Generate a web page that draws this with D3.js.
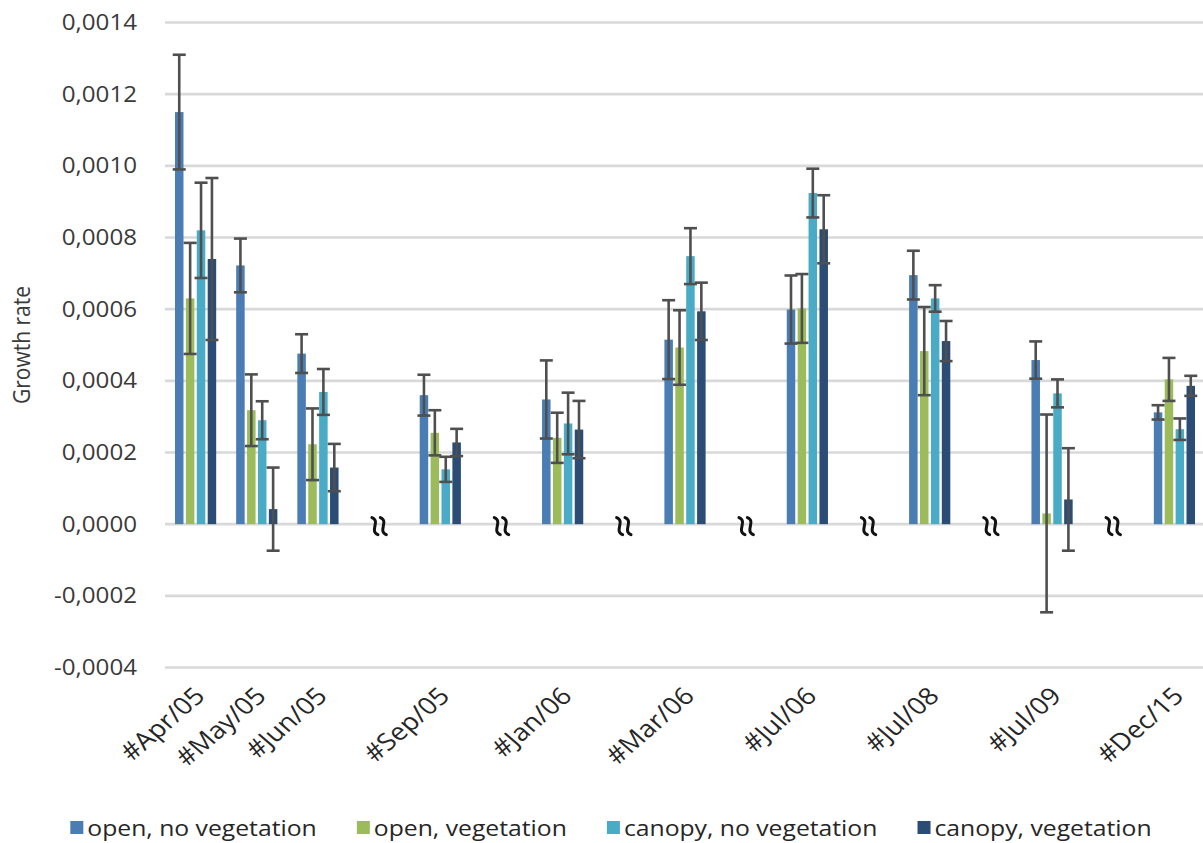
<!DOCTYPE html>
<html>
<head>
<meta charset="utf-8">
<script src="https://cdn.jsdelivr.net/npm/d3@7"></script>
<style>
  html, body { margin: 0; padding: 0; background: #fff; }
  svg { display: block; }
  text { font-family: "Open Sans", "DejaVu Sans", sans-serif; }
</style>
</head>
<body>
<svg id="chart" width="1203" height="843"></svg>
<script>
// Sampling dates (in order) and x slots; "break" slots mark time breaks
const dates = ["#Apr/05", "#May/05", "#Jun/05", "#Sep/05", "#Jan/06", "#Mar/06", "#Jul/06", "#Jul/08", "#Jul/09", "#Dec/15"];
const slots = ["#Apr/05", "#May/05", "#Jun/05", "break1", "#Sep/05", "break2", "#Jan/06", "break3", "#Mar/06", "break4", "#Jul/06", "break5", "#Jul/08", "break6", "#Jul/09", "break7", "#Dec/15"];
const breakSlots = ["break1", "break2", "break3", "break4", "break5", "break6", "break7"];

// Series names
const seriesNames = ["open, no vegetation", "open, vegetation", "canopy, no vegetation", "canopy, vegetation"];

// Mean growth rates per date
const openNoVeg    = [0.00115, 0.000722, 0.000476, 0.00036, 0.000348, 0.000515, 0.000599, 0.000695, 0.000458, 0.000312];
const openVeg      = [0.00063, 0.000318, 0.000223, 0.000255, 0.000241, 0.000493, 0.000602, 0.000483, 0.00003, 0.000404];
const canopyNoVeg  = [0.00082, 0.00029, 0.000369, 0.000153, 0.000281, 0.000748, 0.000924, 0.00063, 0.000365, 0.000265];
const canopyVeg    = [0.00074, 0.000042, 0.000158, 0.000228, 0.000264, 0.000594, 0.000823, 0.000511, 0.000069, 0.000386];

// Error bar half-widths per date
const openNoVegErr   = [0.00016, 0.000075, 0.000054, 0.000057, 0.000109, 0.00011, 0.000095, 0.000068, 0.000052, 0.00002];
const openVegErr     = [0.000155, 0.0001, 0.0001, 0.000063, 0.00007, 0.000104, 0.000096, 0.000123, 0.000276, 0.00006];
const canopyNoVegErr = [0.000133, 0.000053, 0.000064, 0.000035, 0.000086, 0.000078, 0.000068, 0.000037, 0.000039, 0.00003];
const canopyVegErr   = [0.000226, 0.000116, 0.000066, 0.000038, 0.00008, 0.00008, 0.000095, 0.000056, 0.000143, 0.000028];

// Y axis ticks
const yTicks = [-0.0004, -0.0002, 0, 0.0002, 0.0004, 0.0006, 0.0008, 0.0010, 0.0012, 0.0014];

const seriesColors = ["#4a7db3", "#9cbc5c", "#4aabc6", "#2a4c75"];

const seriesValues = [openNoVeg, openVeg, canopyNoVeg, canopyVeg];
const seriesErrors = [openNoVegErr, openVegErr, canopyNoVegErr, canopyVegErr];

const svg = d3.select("#chart");
const STRETCH = 1.15;           // horizontal widening of the lettering
const plotLeft = 165, plotRight = 1205, plotTop = 22.5, plotBottom = 667.5;

const x = d3.scaleBand().domain(slots).range([plotLeft, plotRight]).padding(0);
const xInner = d3.scaleBand().domain(d3.range(4)).range([-20.6, 20.6]).paddingInner(0.22);
const y = d3.scaleLinear().domain([-0.0004, 0.0014]).range([plotBottom, plotTop]);

const locale = d3.formatLocale({ decimal: ",", thousands: ".", grouping: [3], currency: ["", ""], minus: "-" });
const fmt = locale.format(".4f");

// Gridlines
svg.append("g").selectAll("line").data(yTicks).join("line")
  .attr("x1", plotLeft).attr("x2", 1203)
  .attr("y1", d => y(d)).attr("y2", d => y(d))
  .attr("stroke", "#d9d9d9").attr("stroke-width", 2.6);

// Y tick labels
svg.append("g").selectAll("text").data(yTicks).join("text")
  .attr("transform", d => `translate(137,${y(d)}) scale(${STRETCH},1)`)
  .attr("text-anchor", "end").attr("dy", "0.35em")
  .attr("font-size", 21).attr("fill", "#3a3a3a")
  .text(d => fmt(d));

// Y axis title
svg.append("text")
  .attr("transform", `translate(30,345) scale(${STRETCH},1) rotate(-90)`)
  .attr("text-anchor", "middle")
  .attr("font-size", 21).attr("fill", "#3a3a3a")
  .text("Growth rate");

// Bars and error bars
const rows = [];
dates.forEach((dt, i) => {
  seriesValues.forEach((vals, s) => {
    rows.push({ date: dt, s, v: vals[i], e: seriesErrors[s][i] });
  });
});

const barG = svg.append("g");
barG.selectAll("rect").data(rows).join("rect")
  .attr("x", d => x(d.date) + x.bandwidth() / 2 + xInner(d.s))
  .attr("width", xInner.bandwidth())
  .attr("y", d => Math.min(y(d.v), y(0)))
  .attr("height", d => Math.abs(y(d.v) - y(0)))
  .attr("fill", d => seriesColors[d.s]);

const errG = svg.append("g").attr("stroke", "#4f4f4f").attr("stroke-width", 2.6);
const cx = d => x(d.date) + x.bandwidth() / 2 + xInner(d.s) + xInner.bandwidth() / 2;
errG.selectAll("line.stem").data(rows).join("line").attr("class", "stem")
  .attr("x1", cx).attr("x2", cx)
  .attr("y1", d => y(d.v + d.e)).attr("y2", d => y(d.v - d.e));
errG.selectAll("line.capTop").data(rows).join("line").attr("class", "capTop")
  .attr("x1", d => cx(d) - 6.5).attr("x2", d => cx(d) + 6.5)
  .attr("y1", d => y(d.v + d.e)).attr("y2", d => y(d.v + d.e));
errG.selectAll("line.capBot").data(rows).join("line").attr("class", "capBot")
  .attr("x1", d => cx(d) - 6.5).attr("x2", d => cx(d) + 6.5)
  .attr("y1", d => y(d.v - d.e)).attr("y2", d => y(d.v - d.e));

// Time-break marks on the zero line
const brk = svg.append("g").attr("fill", "none").attr("stroke", "#111").attr("stroke-width", 3)
  .attr("stroke-linecap", "round");
breakSlots.forEach(b => {
  const c = x(b) + x.bandwidth() / 2;
  const yc = y(0) + 2;
  [-4.2, 4.2].forEach(dx => {
    const px = c + dx;
    brk.append("path")
      .attr("d", `M${px - 3},${yc - 8.5} C${px + 6},${yc - 5} ${px - 6},${yc + 5} ${px + 3},${yc + 8.5}`);
  });
});

// X category labels
svg.append("g").selectAll("text").data(dates).join("text")
  .attr("transform", d => `translate(${x(d) + x.bandwidth() / 2 + 4},${plotBottom + 24}) scale(${STRETCH},1) rotate(-45)`)
  .attr("text-anchor", "end").attr("dy", "0.35em")
  .attr("font-size", 24).attr("fill", "#262626")
  .text(d => d);

// Legend
const legend = svg.append("g");
const items = legend.selectAll("g").data(seriesNames).join("g");
items.append("rect").attr("width", 13).attr("height", 13).attr("y", -7)
  .attr("fill", (d, i) => seriesColors[i]);
items.append("text")
  .attr("x", 0).attr("dy", "0.35em")
  .attr("font-size", 21.5).attr("fill", "#262626")
  .text(d => d);
const widths = [];
items.each(function () {
  const t = d3.select(this).select("text");
  widths.push(t.node().getComputedTextLength() * STRETCH);
});
const gapSq = 4, gapItem = 40, sq = 13;
const total = d3.sum(widths) + widths.length * (sq + gapSq) + gapItem * (widths.length - 1);
let lx = 611 - total / 2;
items.each(function (d, i) {
  const g = d3.select(this);
  g.attr("transform", `translate(${lx},828)`);
  g.select("text").attr("transform", `translate(${sq + gapSq},0) scale(${STRETCH},1)`);
  lx += sq + gapSq + widths[i] + gapItem;
});
</script>
</body>
</html>
